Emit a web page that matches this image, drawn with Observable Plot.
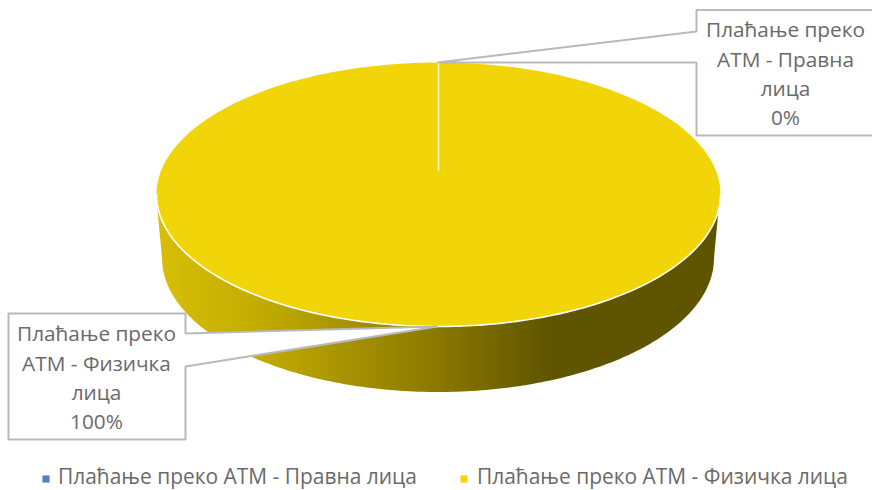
<!DOCTYPE html>
<html>
<head>
<meta charset="utf-8">
<script src="https://cdn.jsdelivr.net/npm/d3@7"></script>
<script src="https://cdn.jsdelivr.net/npm/@observablehq/plot@0.6"></script>
<style>html,body{margin:0;padding:0;background:#fff;overflow:hidden}svg{display:block}</style>
</head>
<body>
<script>
// Data
const categories = ["Плаћање преко АТМ - Правна лица", "Плаћање преко АТМ - Физичка лица"];
const shares = [0, 100];
const labelLines = [
  ["Плаћање преко", "АТМ - Правна", "лица"],
  ["Плаћање преко", "АТМ - Физичка", "лица"]
];
const colors = ["#4f81bd", "#f2d508"];

// Layout (not data)
const W = 872, H = 490;
const top3d = {cx: 438, cy: 194, rx: 282, ry: 132, pieY: 170};
const base3d = {cx: 438, cy: 258, rx: 276, ry: 134};
const calloutShapes = [
  [[696,9.5],[880,9.5],[880,135],[696,135],[696,62],[437,62],[696,31],[696,9.5]],
  [[8,313],[185,313],[185,333],[437,326],[185,366],[185,439],[8,439],[8,313]]
];
const calloutAnchors = [[785,71.5],[96,375.5]];
const legendAt = [[45.5,478.5,57.5,476.8],[463.5,478.5,476.5,476.8]];

const pct = d3.format(".0%");
const total = d3.sum(shares);
const slices = d3.pie().sort(null)(shares);
const big = slices[1];

// Ellipse helpers: pie angle 0 is at 12 o'clock, clockwise.
const pt = (e, a) => [e.cx + e.rx * Math.sin(a), e.cy - e.ry * Math.cos(a)];
const step = Math.PI / 180;
const fullAngles = d3.range(big.startAngle, big.endAngle + step / 2, step);
const frontAngles = d3.range(Math.PI / 2, 3 * Math.PI / 2 + step / 2, step);

const wall = frontAngles.map(a => {
  const [x1, y1] = pt(top3d, a), [x2, y2] = pt(base3d, a);
  return {x1, y1, x2, y2};
});

const gradient = () => {
  const s = d3.create("svg:defs");
  const g = s.append("linearGradient").attr("id", "wallGrad")
    .attr("gradientUnits", "userSpaceOnUse")
    .attr("x1", 156).attr("x2", 720).attr("y1", 0).attr("y2", 0);
  [[0, "#d8be06"], [0.17, "#c4ae02"], [0.5, "#8a7800"], [0.7, "#5f5400"], [1, "#5f5400"]]
    .forEach(([o, c]) => g.append("stop").attr("offset", o).attr("stop-color", c));
  return s.node();
};

const chart = Plot.plot({
  width: W, height: H, margin: 0,
  x: {domain: [0, W], range: [0, W], axis: null},
  y: {domain: [0, H], range: [0, H], axis: null},
  color: {domain: categories, range: colors},
  style: {background: "#fff", fontFamily: "'Open Sans', sans-serif"},
  marks: [
    gradient,
    // side wall
    Plot.area(wall, {x1: "x1", y1: "y1", x2: "x2", y2: "y2", fill: "url(#wallGrad)"}),
    // top face (the 100% slice)
    Plot.line(fullAngles.map(a => pt(top3d, a)), {x: "0", y: "1", fill: colors[1], stroke: "none"}),
    // white edge along the front
    Plot.line(frontAngles.map(a => pt(top3d, a)), {x: "0", y: "1", stroke: "#fff", strokeWidth: 1.6}),
    // radial boundary of the 0% slice
    Plot.line([[top3d.cx, top3d.pieY], pt(top3d, slices[0].startAngle)], {x: "0", y: "1", stroke: "#fff", strokeWidth: 1.5, strokeOpacity: 0.75}),
    // callouts
    ...calloutShapes.map(s => Plot.line(s, {x: "0", y: "1", fill: "#fff", stroke: "#b9b9b9", strokeWidth: 2, strokeLinejoin: "miter"})),
    Plot.text(categories.map((c, i) => ({
      t: [...labelLines[i], pct(shares[i] / total)].join("\n"),
      x: calloutAnchors[i][0], y: calloutAnchors[i][1]
    })), {x: "x", y: "y", text: "t", fontSize: 20.8, lineHeight: 1.41, fill: "#6a6a6a", textAnchor: "middle"}),
    // legend
    Plot.dot(categories.map((c, i) => ({c, x: legendAt[i][0], y: legendAt[i][1]})), {x: "x", y: "y", fill: "c", symbol: "square", r: 4, stroke: "none"}),
    Plot.text(categories.map((c, i) => ({c, x: legendAt[i][2], y: legendAt[i][3]})), {x: "x", y: "y", text: "c", fontSize: 20.95, fill: "#6a6a6a", textAnchor: "start"})
  ]
});
document.body.appendChild(chart);
</script>
</body>
</html>
